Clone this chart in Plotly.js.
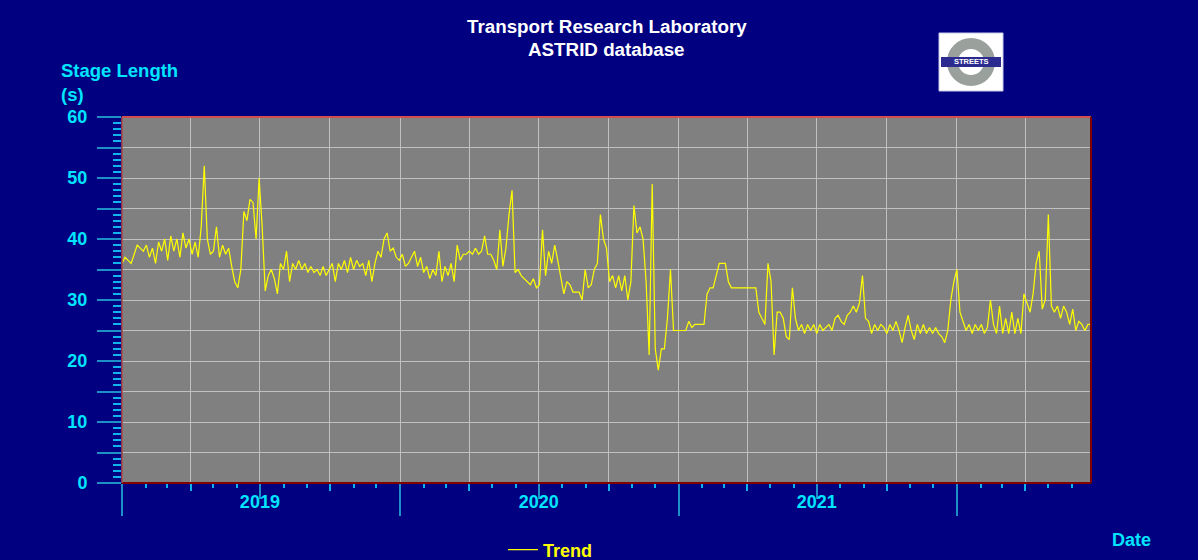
<!DOCTYPE html>
<html>
<head>
<meta charset="utf-8">
<script src="https://cdn.plot.ly/plotly-3.0.1.min.js"></script>
<style>html,body{margin:0;padding:0;background:#000080;}#chart{width:1198px;height:560px;}</style>
</head>
<body>
<div id="chart"></div>
<script>
// ---- data ----
const seriesName = 'Trend';
const startDate = '2019-01-01';   // first sample
const stepDays = 4;               // sampling interval of the values below
const stageLength = [
36,37,36.5,36,37.5,39,38.5,38,39,37,
38.5,36,39.5,38,40,36.5,40.5,38,40,37,
41,38.5,40,37.5,39.5,37,42,52,40,37.5,
38,42,37,39,37.5,38.5,35.5,33,32,35,
44.5,43,46.5,46,40,50,42,31.5,34,35,
33.5,31,36,35,38,33,36,35,36.5,35,
36,34.5,35.5,34.5,35,34,35.5,34,35,36,
33,36,35,36.5,34.5,37,35,36.5,35.5,36,
34,36.5,33,36,38,37,40,41,38,38.5,
37,36.5,37.5,35.5,36,37,38,35.5,37,34.5,
35.5,33.5,35,34,38,33,35.5,34,36,33,
39,36.5,37.5,37.5,38,37.5,38.5,37.5,38,40.5,
37.5,37.5,36.5,35,41.5,35.5,38.5,44,48,34.5,
35,34,33.5,33,32.5,33.5,32,32.5,41.5,34,
38,36,39,36.5,33.5,31,33,32.5,31.3,31.3,
31.3,30,35,32,32.5,35,36,44,40,38.5,
33,34,32,34,31.5,34,30,33,45.5,41,
42,40,33,21,49,22,18.5,22,22,27,
35,25,25,25,25,25,26.5,25.5,26,26,
26,26,31,32,32,34,36,36,36,33,
32,32,32,32,32,32,32,32,32,28,
27,26,36,33,21,28,28,27,24,23.5,
32,27,25,26,24.5,26,25,26,24.5,26,
25,25.5,26,25,27,27.5,26.5,26,27.5,28,
29,28,29.5,34,27,26.5,24.5,26,25,26,
25.5,24.5,26,25,26.5,25,23,25.5,27.5,25,
23.5,26,24.5,26,24.5,25.5,24.5,25.5,24.5,24,
23,25,30,33,35,28,26.5,25,26,24.5,
26,25,26,24.5,25.5,30,26,24.5,29,24.5,
27,24.5,28,24.5,27,24.5,31,29.5,28,31,
36,38,28.5,30,44,29,28,29,27,29,
28,26,28.5,25,26.5,26,25,26,26
];
const yearStarts = ['2019-01-01','2020-01-01','2021-01-01','2022-01-01'];
const yearLabelDates = ['2019-07-01','2020-07-01','2021-07-01'];
const yearLabels = ['2019','2020','2021'];
const yTickVals = [0,5,10,15,20,25,30,35,40,45,50,55,60];
const yTickText = ['0','','10','','20','','30','','40','','50','','60'];

// sample dates
const t0 = Date.parse(startDate + 'T00:00:00Z');
const dates = stageLength.map((v, i) => new Date(t0 + i * stepDays * 86400000).toISOString().slice(0, 10));
const xRange = [dates[0], dates[dates.length - 1]];

// ---- styling ----
const FONT = '"Liberation Sans", Arial, sans-serif';
const CYAN = '#00E5FF';
const TICK_LONG = '#1E90C8';
const TICK_SHORT = '#10B4EC';
const W = 1198, H = 560, L = 122, R = 107, T = 117, B = 77;
const plotW = W - L - R, plotH = H - T - B;
const px = x => (x - L) / plotW;
const py = y => (H - B - y) / plotH;

const trace = {
  x: dates, y: stageLength, type: 'scatter', mode: 'lines', name: seriesName,
  line: {color: '#FFFF00', width: 1.2}, hoverinfo: 'x+y'
};
// empty carrier traces so that the tick-only overlay axes get drawn
const carriers = ['x2', 'x3', 'x4'].map(ax => ({
  x: [], y: [], type: 'scatter', mode: 'lines', xaxis: ax, yaxis: 'y',
  showlegend: false, hoverinfo: 'skip'
}));

function overlayAxis(extra) {
  return Object.assign({
    type: 'date', overlaying: 'x', anchor: 'y', side: 'bottom', range: xRange, autorange: false,
    tickmode: 'array', ticks: 'outside', tickwidth: 2, tickcolor: TICK_LONG,
    showgrid: false, zeroline: false, showline: false, showticklabels: false,
    fixedrange: true
  }, extra);
}

const layout = {
  width: W, height: H,
  paper_bgcolor: '#000080', plot_bgcolor: '#808080',
  margin: {l: L, r: R, t: T, b: B, pad: 0, autoexpand: false},
  font: {family: FONT, color: CYAN},
  showlegend: true,
  legend: {
    orientation: 'h', x: px(503), xanchor: 'left', y: py(550), yanchor: 'middle',
    bgcolor: 'rgba(0,0,0,0)', font: {family: FONT, size: 18, color: '#FFFF00', weight: 'bold'}
  },
  xaxis: {
    type: 'date', range: xRange, tickmode: 'linear', tick0: startDate, dtick: 'M3',
    ticks: 'outside', ticklen: 7, tickwidth: 2, tickcolor: TICK_SHORT,
    showticklabels: false, showgrid: true, gridcolor: '#C0C0C0', gridwidth: 1,
    zeroline: false, showline: false,
    minor: {tickmode: 'linear', tick0: startDate, dtick: 'M1', ticks: 'outside', ticklen: 4, tickwidth: 2, tickcolor: TICK_SHORT, showgrid: false}
  },
  xaxis2: overlayAxis({tickvals: yearStarts, ticklen: 32}),
  xaxis3: overlayAxis({tickvals: yearLabelDates, ticklen: 15}),
  xaxis4: overlayAxis({tickvals: yearLabelDates, ticktext: yearLabels, ticklen: 2,
    tickcolor: 'rgba(0,0,0,0)', showticklabels: true,
    tickfont: {family: FONT, size: 18, color: CYAN, weight: 'bold'}}),
  yaxis: {
    range: [0, 60], tickmode: 'array', tickvals: yTickVals, ticktext: yTickText,
    ticks: 'outside', ticklen: 24, tickwidth: 2, tickcolor: TICK_LONG,
    ticklabelstandoff: 6,
    tickfont: {family: FONT, size: 18, color: CYAN, weight: 'bold'},
    showgrid: true, gridcolor: '#C0C0C0', gridwidth: 1, zeroline: false, showline: false,
    minor: {tickmode: 'linear', tick0: 0, dtick: 1, ticks: 'outside', ticklen: 8, tickwidth: 2, tickcolor: TICK_SHORT, showgrid: false}
  },
  annotations: [
    {text: '<b>Transport Research Laboratory</b>', xref: 'paper', yref: 'paper', x: 0.5, y: py(27), xanchor: 'center', yanchor: 'middle', showarrow: false, font: {family: FONT, size: 18.8, color: '#FFFFFF'}},
    {text: '<b>ASTRID database</b>', xref: 'paper', yref: 'paper', x: 0.5, y: py(49), xanchor: 'center', yanchor: 'middle', showarrow: false, font: {family: FONT, size: 18.8, color: '#FFFFFF'}},
    {text: '<b>Stage Length</b><br><b>(s)</b>', xref: 'paper', yref: 'paper', x: px(59), y: py(82), xanchor: 'left', yanchor: 'middle', align: 'left', showarrow: false, font: {family: FONT, size: 18.5, color: CYAN}},
    {text: '<b>Date</b>', xref: 'paper', yref: 'paper', x: px(1131), y: py(540), xanchor: 'center', yanchor: 'middle', showarrow: false, font: {family: FONT, size: 18, color: CYAN}},
    {text: '<b>STREETS</b>', xref: 'paper', yref: 'paper', x: px(971), y: py(62), xanchor: 'center', yanchor: 'middle', showarrow: false, font: {family: FONT, size: 7.5, color: '#FFFFFF'}}
  ],
  shapes: [
    // plot frame
    {type: 'line', xref: 'paper', yref: 'paper', x0: 0, x1: 1, y0: 1, y1: 1, line: {color: '#D05050', width: 2}, layer: 'above'},
    {type: 'line', xref: 'paper', yref: 'paper', x0: 1, x1: 1, y0: 0, y1: 1, line: {color: '#800000', width: 2}, layer: 'above'},
    {type: 'line', xref: 'paper', yref: 'paper', x0: 0, x1: 1, y0: 0, y1: 0, line: {color: '#800000', width: 2}, layer: 'above'},
    {type: 'line', xref: 'paper', yref: 'paper', x0: 0, x1: 0, y0: 0, y1: 1, line: {color: '#B04848', width: 1.5}, layer: 'above'},
    // logo
    {type: 'rect', xref: 'paper', yref: 'paper', x0: px(939), x1: px(1003), y0: py(91), y1: py(33), fillcolor: '#FFFFFF', line: {color: '#C8C8E8', width: 1}, layer: 'above'},
    {type: 'circle', xref: 'paper', yref: 'paper', x0: px(971 - 18.5), x1: px(971 + 18.5), y0: py(62 + 18.5), y1: py(62 - 18.5), line: {color: '#9AA09C', width: 11}, layer: 'above'},
    {type: 'rect', xref: 'paper', yref: 'paper', x0: px(941), x1: px(1001), y0: py(67), y1: py(57), fillcolor: '#2B2B90', line: {width: 0}, layer: 'above'}
  ]
};

Plotly.newPlot('chart', [trace].concat(carriers), layout, {displayModeBar: false, staticPlot: true});
</script>
</body>
</html>
